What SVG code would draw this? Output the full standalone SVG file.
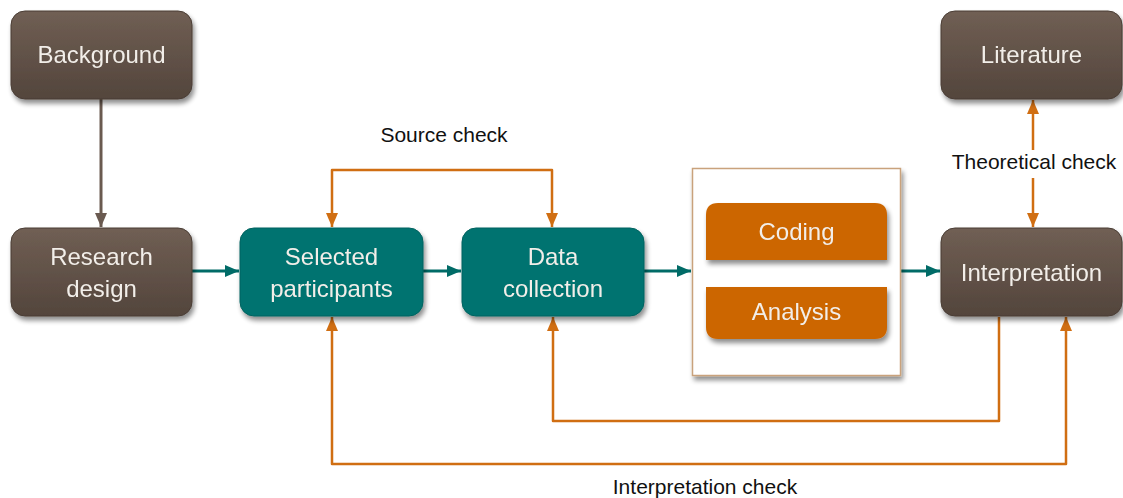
<svg xmlns="http://www.w3.org/2000/svg" width="1123" height="498" viewBox="0 0 1123 498">
<defs>
<linearGradient id="brown" x1="0" y1="0" x2="0" y2="1">
<stop offset="0" stop-color="#705f54"/>
<stop offset="1" stop-color="#53453c"/>
</linearGradient>
<filter id="sh" x="-10%" y="-10%" width="125%" height="135%">
<feGaussianBlur in="SourceAlpha" stdDeviation="2.5"/>
<feOffset dx="2" dy="4" result="b"/>
<feComponentTransfer><feFuncA type="linear" slope="0.45"/></feComponentTransfer>
<feMerge><feMergeNode/><feMergeNode in="SourceGraphic"/></feMerge>
</filter>
<marker id="aO" viewBox="0 0 14 12" refX="14" refY="6" markerWidth="14" markerHeight="12" orient="auto-start-reverse" markerUnits="userSpaceOnUse">
<path d="M0,0 L14,6 L0,12 z" fill="#d06e12"/>
</marker>
<marker id="aT" viewBox="0 0 14 12" refX="14" refY="6" markerWidth="14" markerHeight="12" orient="auto" markerUnits="userSpaceOnUse">
<path d="M0,0 L14,6 L0,12 z" fill="#006b67"/>
</marker>
<marker id="aB" viewBox="0 0 14 12" refX="14" refY="6" markerWidth="14" markerHeight="12" orient="auto" markerUnits="userSpaceOnUse">
<path d="M0,0 L14,6 L0,12 z" fill="#6a5a50"/>
</marker>
</defs>
<style>
.brown{fill:url(#brown);stroke:#4a3d35;stroke-width:1}
.teal{fill:#00736f;stroke:#006360;stroke-width:1}
.orng{fill:#cc6600}
.nt{font-family:"Liberation Sans",Arial,sans-serif;font-size:24px;fill:#f2eee9;text-anchor:middle}
.lb{font-family:"Liberation Sans",Arial,sans-serif;font-size:21px;fill:#111;text-anchor:middle}
.co{fill:none;stroke:#d06e12;stroke-width:2.5;stroke-linejoin:round}
.ct{fill:none;stroke:#006b67;stroke-width:3}
.cb{fill:none;stroke:#6a5a50;stroke-width:3}
</style>
<g id="connectors">
<path class="cb" d="M101,99 V227" marker-end="url(#aB)"/>
<path class="ct" d="M192,271 H239" marker-end="url(#aT)"/>
<path class="ct" d="M423,271 H461" marker-end="url(#aT)"/>
<path class="ct" d="M644,271 H691" marker-end="url(#aT)"/>
<path class="ct" d="M901,271 H940" marker-end="url(#aT)"/>
<path class="co" d="M332,227 V170 H552 V227" marker-start="url(#aO)" marker-end="url(#aO)"/>
<path class="co" d="M1033,150 V100" marker-end="url(#aO)"/>
<path class="co" d="M1033,178 V227" marker-end="url(#aO)"/>
<path class="co" d="M999,317 V421 H553 V317" marker-end="url(#aO)"/>
<path class="co" d="M1066,317 V464 H332 V317" marker-start="url(#aO)" marker-end="url(#aO)"/>
</g>
<g id="background" filter="url(#sh)">
<rect class="brown" x="11" y="11" width="181" height="88" rx="14"/>
<text class="nt" x="101.5" y="63">Background</text>
</g>
<g id="research-design" filter="url(#sh)">
<rect class="brown" x="11" y="228" width="181" height="88" rx="14"/>
<text class="nt" x="101.5" y="265">Research</text>
<text class="nt" x="101.5" y="297">design</text>
</g>
<g id="selected-participants" filter="url(#sh)">
<rect class="teal" x="240" y="228" width="183" height="88" rx="14"/>
<text class="nt" x="331.5" y="265">Selected</text>
<text class="nt" x="331.5" y="297">participants</text>
</g>
<g id="data-collection" filter="url(#sh)">
<rect class="teal" x="462" y="228" width="182" height="88" rx="14"/>
<text class="nt" x="553" y="265">Data</text>
<text class="nt" x="553" y="297">collection</text>
</g>
<g id="process-box" filter="url(#sh)">
<rect x="692.5" y="168.5" width="208" height="207" fill="#ffffff" stroke="#c9a27c" stroke-width="1.5"/>
</g>
<g id="coding" filter="url(#sh)">
<path class="orng" d="M718,203 H875 Q887,203 887,215 V260 H706 V215 Q706,203 718,203 Z"/>
<text class="nt" x="796.5" y="240">Coding</text>
</g>
<g id="analysis" filter="url(#sh)">
<path class="orng" d="M706,287 H887 V327 Q887,339 875,339 H718 Q706,339 706,327 Z"/>
<text class="nt" x="796.5" y="320">Analysis</text>
</g>
<g id="interpretation" filter="url(#sh)">
<rect class="brown" x="941" y="228" width="181" height="88" rx="14"/>
<text class="nt" x="1031.5" y="281">Interpretation</text>
</g>
<g id="literature" filter="url(#sh)">
<rect class="brown" x="941" y="11" width="181" height="88" rx="14"/>
<text class="nt" x="1031.5" y="63">Literature</text>
</g>
<g id="labels">
<text class="lb" x="444" y="142">Source check</text>
<text class="lb" x="1034" y="169">Theoretical check</text>
<text class="lb" x="705" y="494">Interpretation check</text>
</g>
</svg>
